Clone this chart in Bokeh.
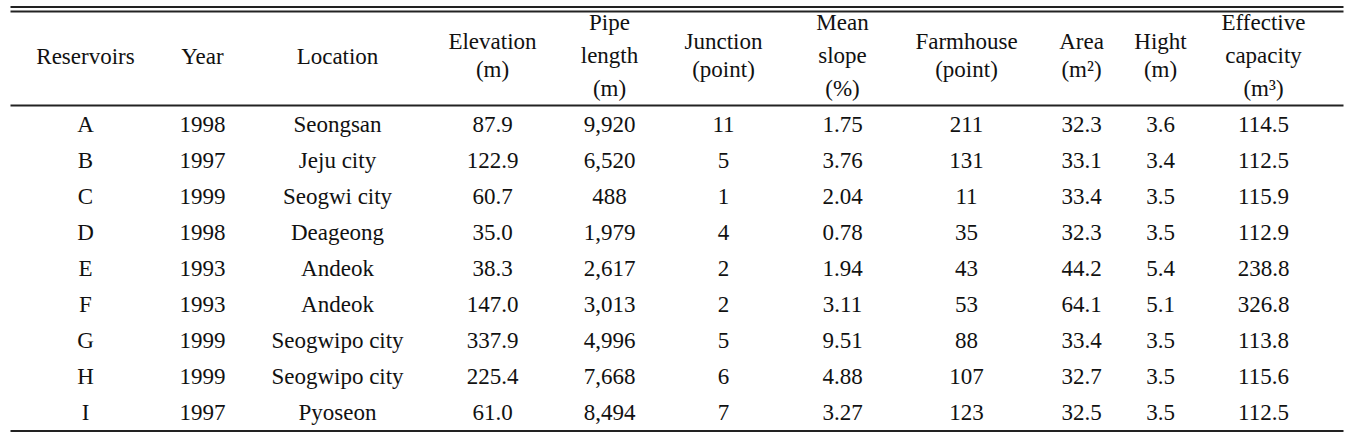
from bokeh.plotting import figure
from bokeh.models import Range1d, ColumnDataSource
from bokeh.core.properties import value
from bokeh.embed import file_html
from bokeh.resources import INLINE

# ---------------- data ----------------
reservoirs = ["A", "B", "C", "D", "E", "F", "G", "H", "I"]
years = [1998, 1997, 1999, 1998, 1993, 1993, 1999, 1999, 1997]
locations = ["Seongsan", "Jeju city", "Seogwi city", "Deageong", "Andeok",
             "Andeok", "Seogwipo city", "Seogwipo city", "Pyoseon"]
elevation = [87.9, 122.9, 60.7, 35.0, 38.3, 147.0, 337.9, 225.4, 61.0]
pipe_length = [9920, 6520, 488, 1979, 2617, 3013, 4996, 7668, 8494]
junction = [11, 5, 1, 4, 2, 2, 5, 6, 7]
mean_slope = [1.75, 3.76, 2.04, 0.78, 1.94, 3.11, 9.51, 4.88, 3.27]
farmhouse = [211, 131, 11, 35, 43, 53, 88, 107, 123]
area = [32.3, 33.1, 33.4, 32.3, 44.2, 64.1, 33.4, 32.7, 32.5]
hight = [3.6, 3.4, 3.5, 3.5, 5.4, 5.1, 3.5, 3.5, 3.5]
capacity = [114.5, 112.5, 115.9, 112.9, 238.8, 326.8, 113.8, 115.6, 112.5]

headers = [["Reservoirs"], ["Year"], ["Location"], ["Elevation", "(m)"],
           ["Pipe", "length", "(m)"], ["Junction", "(point)"],
           ["Mean", "slope", "(%)"], ["Farmhouse", "(point)"],
           ["Area", "(m\u00b2)"], ["Hight", "(m)"],
           ["Effective", "capacity", "(m\u00b3)"]]

# ---------------- layout ----------------
col_x = [85, 202, 337, 492, 609, 723, 842, 966, 1081, 1160, 1263]
row_y0, row_step = 124, 36
header_y = {1: [56], 2: [41, 69], 3: [22, 55, 88]}
FONT = value("Liberation Serif")
FSIZE = "23px"

columns = [
    [str(v) for v in reservoirs],
    [str(v) for v in years],
    locations,
    [f"{v:.1f}" for v in elevation],
    [f"{v:,}" for v in pipe_length],
    [str(v) for v in junction],
    [f"{v:.2f}" for v in mean_slope],
    [str(v) for v in farmhouse],
    [f"{v:.1f}" for v in area],
    [f"{v:.1f}" for v in hight],
    [f"{v:.1f}" for v in capacity],
]

p = figure(width=1353, height=435, output_backend="svg", toolbar_location=None,
           x_range=Range1d(0, 1353), y_range=Range1d(435, 0),
           min_border=0, outline_line_color=None, background_fill_color="white",
           border_fill_color="white")
p.axis.visible = False
p.grid.visible = False

# header texts
hx, hy, ht = [], [], []
for cx, lines in zip(col_x, headers):
    for yy, t in zip(header_y[len(lines)], lines):
        hx.append(cx); hy.append(yy); ht.append(t)
p.text(x="x", y="y", text="t", source=ColumnDataSource(dict(x=hx, y=hy, t=ht)),
       text_font=FONT, text_font_size=FSIZE, text_color="#111111",
       text_align="center", text_baseline="middle")

# body texts
bx, by, bt = [], [], []
for cx, col in zip(col_x, columns):
    for i, t in enumerate(col):
        bx.append(cx); by.append(row_y0 + row_step * i); bt.append(t)
p.text(x="x", y="y", text="t", source=ColumnDataSource(dict(x=bx, y=by, t=bt)),
       text_font=FONT, text_font_size=FSIZE, text_color="#111111",
       text_align="center", text_baseline="middle")

# rules
rule_y = [6.5, 11, 105, 430.5]
p.segment(x0=[10] * 4, x1=[1343] * 4, y0=rule_y, y1=rule_y,
          line_color="#222222", line_width=2)

open("out.html", "w").write(file_html(p, INLINE))
